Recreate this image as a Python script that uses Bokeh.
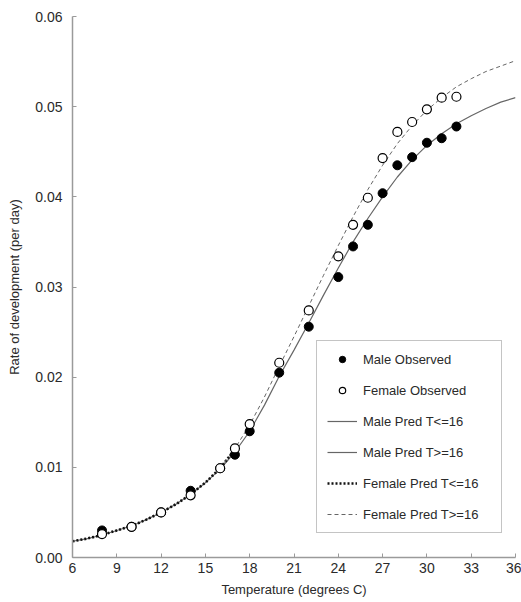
from bokeh.plotting import figure
from bokeh.models import Legend, LegendItem, FixedTicker, PrintfTickFormatter, Range1d
from bokeh.embed import file_html
from bokeh.resources import INLINE

# observed data
temps_obs = [8, 10, 12, 14, 16, 17, 18, 20, 22, 24, 25, 26, 27, 28, 29, 30, 31, 32]
male_obs = [0.0030, 0.0034, 0.0050, 0.0074, 0.0099, 0.0114, 0.0140, 0.0205, 0.0256,
            0.0311, 0.0345, 0.0369, 0.0404, 0.0435, 0.0444, 0.0460, 0.0465, 0.0478]
female_obs = [0.0026, 0.0034, 0.0050, 0.0069, 0.0099, 0.0121, 0.0148, 0.0216, 0.0274,
              0.0334, 0.0369, 0.0399, 0.0443, 0.0472, 0.0483, 0.0497, 0.0510, 0.0511]

# predicted curves
t_low_m = [6, 7, 8, 9, 10, 11, 12, 13, 14, 15, 16]
male_low = [0.0018, 0.0021, 0.0025, 0.0030, 0.0035, 0.0042, 0.0050, 0.0059, 0.0070, 0.0083, 0.0098]
t_low_f = [6, 7, 8, 9, 10, 11, 12, 13, 14, 15, 16, 17]
female_low = [0.0018, 0.0021, 0.0025, 0.0030, 0.0035, 0.0042, 0.0050, 0.0059, 0.0070, 0.0083, 0.0099, 0.0120]

t_high = [16, 17, 18, 19, 20, 21, 22, 23, 24, 25, 26, 27, 28, 29, 30, 31, 32, 33, 34, 35, 36]
male_high = [0.0098, 0.0117, 0.0140, 0.0169, 0.0201, 0.0230, 0.0260, 0.0291, 0.0321, 0.0350,
             0.0376, 0.0400, 0.0422, 0.0441, 0.0457, 0.0470, 0.0481, 0.0490, 0.0498, 0.0505, 0.0510]
female_high = [0.0099, 0.0121, 0.0147, 0.0178, 0.0212, 0.0245, 0.0279, 0.0313, 0.0346, 0.0378,
               0.0408, 0.0435, 0.0459, 0.0479, 0.0496, 0.0510, 0.0522, 0.0531, 0.0539, 0.0545, 0.0551]

x_ticks = [6, 9, 12, 15, 18, 21, 24, 27, 30, 33, 36]
y_ticks = [0.0, 0.01, 0.02, 0.03, 0.04, 0.05, 0.06]

FONT = "Liberation Sans"
TXT = "#2a2a2a"
AX = "#9a9a9a"

p = figure(width=521, height=602, output_backend="svg", toolbar_location=None,
           x_range=Range1d(6, 36), y_range=Range1d(0, 0.06),
           min_border_left=72, min_border_right=6, min_border_top=16, min_border_bottom=45)
p.outline_line_color = None
p.xgrid.visible = False
p.ygrid.visible = False
p.background_fill_color = "white"

for ax in (p.xaxis[0], p.yaxis[0]):
    ax.axis_line_color = AX
    ax.axis_line_width = 1.5
    ax.major_tick_line_color = AX
    ax.major_tick_in = 4
    ax.major_tick_out = 0
    ax.minor_tick_line_color = None
    ax.major_label_text_font = FONT
    ax.major_label_text_font_size = "14px"
    ax.major_label_text_color = TXT
    ax.axis_label_text_font = FONT
    ax.axis_label_text_font_size = "13px"
    ax.axis_label_text_font_style = "normal"
    ax.axis_label_text_color = TXT

p.xaxis.ticker = FixedTicker(ticks=x_ticks)
p.yaxis.ticker = FixedTicker(ticks=y_ticks)
p.yaxis.formatter = PrintfTickFormatter(format="%.2f")
p.xaxis.axis_label = "Temperature (degrees C)"
p.yaxis.axis_label = "Rate of development (per day)"
p.xaxis.major_label_standoff = 5
p.yaxis.major_label_standoff = 10
p.xaxis.axis_label_standoff = 6
p.yaxis.axis_label_standoff = 10

r_mlow = p.line(t_low_m, male_low, line_color="#666666", line_width=1.2)
r_mhigh = p.line(t_high, male_high, line_color="#666666", line_width=1.2)
r_flow = p.line(t_low_f, female_low, line_color="#111111", line_width=2.6, line_dash="2 2")
r_fhigh = p.line(t_high, female_high, line_color="#666666", line_width=1.0, line_dash="4 3")

r_mobs = p.scatter(temps_obs, male_obs, marker="circle", size=9,
                   fill_color="black", line_color="black", line_width=1)
r_fobs = p.scatter(temps_obs, female_obs, marker="circle", size=9,
                   fill_color="white", line_color="black", line_width=1.2)

legend = Legend(items=[
    LegendItem(label="Male Observed", renderers=[r_mobs]),
    LegendItem(label="Female Observed", renderers=[r_fobs]),
    LegendItem(label="Male Pred T<=16", renderers=[r_mlow]),
    LegendItem(label="Male Pred T>=16", renderers=[r_mhigh]),
    LegendItem(label="Female Pred T<=16", renderers=[r_flow]),
    LegendItem(label="Female Pred T>=16", renderers=[r_fhigh]),
], location=(244, 24))
legend.border_line_color = "#8a8a8a"
legend.border_line_width = 1.5
legend.background_fill_color = "white"
legend.background_fill_alpha = 1.0
legend.label_text_font = FONT
legend.label_text_font_size = "13px"
legend.label_text_color = TXT
legend.glyph_width = 30
legend.glyph_height = 16
legend.label_height = 16
legend.label_width = 128
legend.label_standoff = 6
legend.spacing = 15
legend.padding = 10
legend.margin = 0
p.add_layout(legend, "center")

open("out.html", "w").write(file_html(p, INLINE))
